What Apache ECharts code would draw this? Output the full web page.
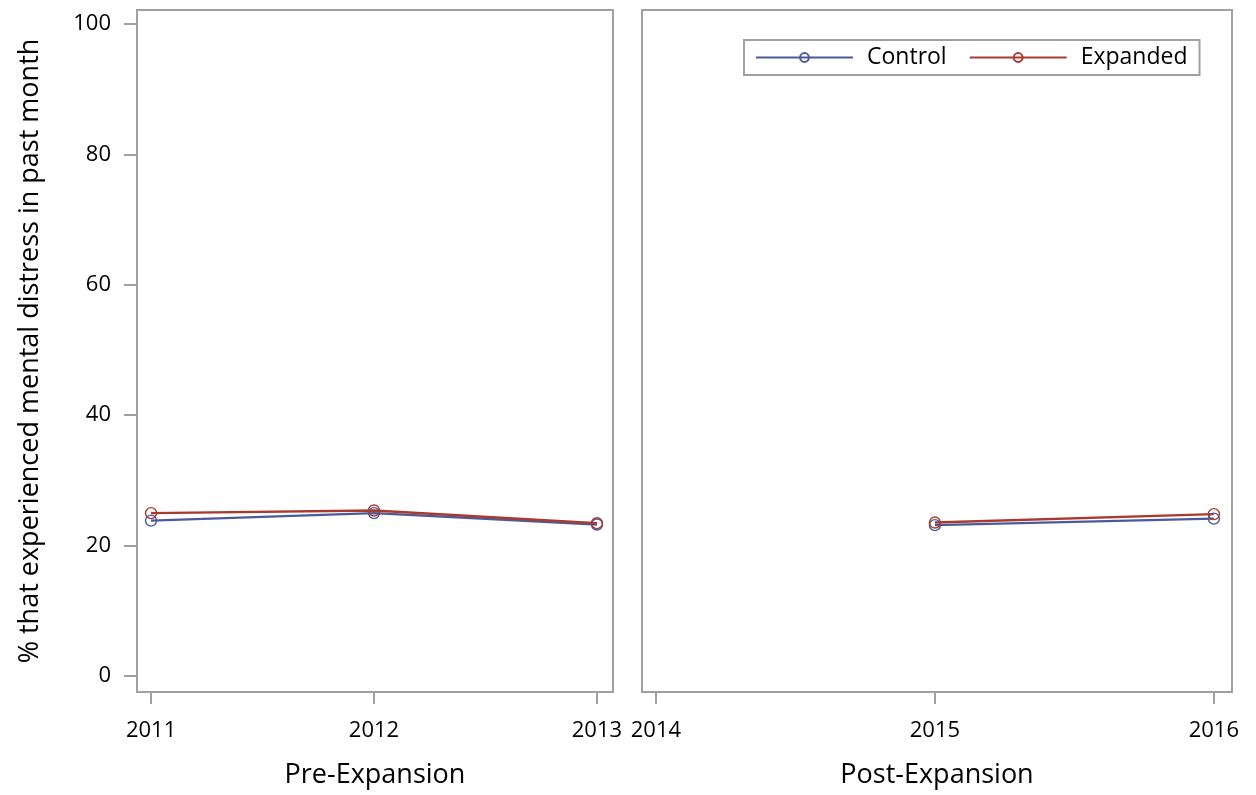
<!DOCTYPE html>
<html>
<head>
<meta charset="utf-8">
<script src="https://cdn.jsdelivr.net/npm/echarts@6/dist/echarts.min.js"></script>
<style>
html,body{margin:0;padding:0;background:#fff;}
#chart{width:1256px;height:795px;}
</style>
</head>
<body>
<div id="chart"></div>
<script>
var preYears = [2011, 2012, 2013];
var postYears = [2015, 2016];
var preTicks = [2011, 2012, 2013];
var postTicks = [2014, 2015, 2016];
var yTicks = [0, 20, 40, 60, 80, 100];
var controlPre = [23.8, 24.95, 23.2];
var expandedPre = [24.95, 25.35, 23.4];
var controlPost = [23.1, 24.1];
var expandedPost = [23.5, 24.8];
var panelTitles = ['Pre-Expansion', 'Post-Expansion'];
var yTitle = '% that experienced mental distress in past month';
var seriesNames = ['Control', 'Expanded'];

var FONT = 'Open Sans';
var BLUE = '#4a5a9c';
var RED = '#a83a2e';
var GRID_C = '#a0a0a0';

function pairs(xs, ys) { return xs.map(function (x, i) { return [x, ys[i]]; }); }

function xAxisFor(idx, ticks, min, max, name) {
  return {
    type: 'value', gridIndex: idx, min: min, max: max,
    axisLine: { show: false, onZero: false },
    splitLine: { show: false },
    axisTick: { show: true, customValues: ticks, length: 12, lineStyle: { color: GRID_C, width: 2 } },
    axisLabel: { customValues: ticks, margin: 28, fontFamily: FONT, fontSize: 22, color: '#000', formatter: function (v) { return String(v); } },
    name: name, nameLocation: 'middle', nameGap: 70,
    nameTextStyle: { fontFamily: FONT, fontSize: 27, color: '#000' }
  };
}

function yAxisFor(idx, show) {
  var ax = {
    type: 'value', gridIndex: idx, min: -2.5, max: 102.15,
    axisLine: { show: false, onZero: false },
    splitLine: { show: false },
    axisTick: { show: show, customValues: yTicks, length: 13, lineStyle: { color: GRID_C, width: 2 } },
    axisLabel: { show: show, customValues: yTicks, margin: 26, fontFamily: FONT, fontSize: 22, color: '#000' }
  };
  if (show) {
    ax.name = yTitle; ax.nameLocation = 'middle'; ax.nameGap = 93;
    ax.nameTextStyle = { fontFamily: FONT, fontSize: 27, color: '#000' };
  }
  return ax;
}

function lineSeries(name, color, xi, data) {
  return {
    name: name, type: 'line', xAxisIndex: xi, yAxisIndex: xi, data: data,
    symbol: 'circle', symbolSize: 11, showSymbol: true,
    lineStyle: { color: color, width: 2.4 },
    itemStyle: { color: 'rgba(255,255,255,0)', borderColor: color, borderWidth: 1.4 },
    animation: false
  };
}

var chart = echarts.init(document.getElementById('chart'), null, { renderer: 'canvas' });
chart.setOption({
  animation: false,
  backgroundColor: '#fff',
  grid: [
    { left: 137, top: 10, width: 476, height: 682, show: true, borderColor: GRID_C, borderWidth: 2, backgroundColor: 'transparent', containLabel: false, outerBoundsMode: 'none' },
    { left: 642, top: 10, width: 590, height: 682, show: true, borderColor: GRID_C, borderWidth: 2, backgroundColor: 'transparent', containLabel: false, outerBoundsMode: 'none' }
  ],
  xAxis: [
    xAxisFor(0, preTicks, 2010.937, 2013.072, panelTitles[0]),
    xAxisFor(1, postTicks, 2013.95, 2016.065, panelTitles[1])
  ],
  yAxis: [yAxisFor(0, true), yAxisFor(1, false)],
  legend: {
    data: seriesNames,
    left: 744, top: 40,
    padding: [6, 12, 6, 11],
    itemWidth: 97, itemHeight: 11, itemGap: 22,
    borderColor: GRID_C, borderWidth: 2,
    textStyle: { fontFamily: FONT, fontSize: 23, color: '#000', padding: [0, 0, 0, 9] }
  },
  series: [
    lineSeries(seriesNames[0], BLUE, 0, pairs(preYears, controlPre)),
    lineSeries(seriesNames[0], BLUE, 1, pairs(postYears, controlPost)),
    lineSeries(seriesNames[1], RED, 0, pairs(preYears, expandedPre)),
    lineSeries(seriesNames[1], RED, 1, pairs(postYears, expandedPost))
  ]
});
</script>
</body>
</html>
